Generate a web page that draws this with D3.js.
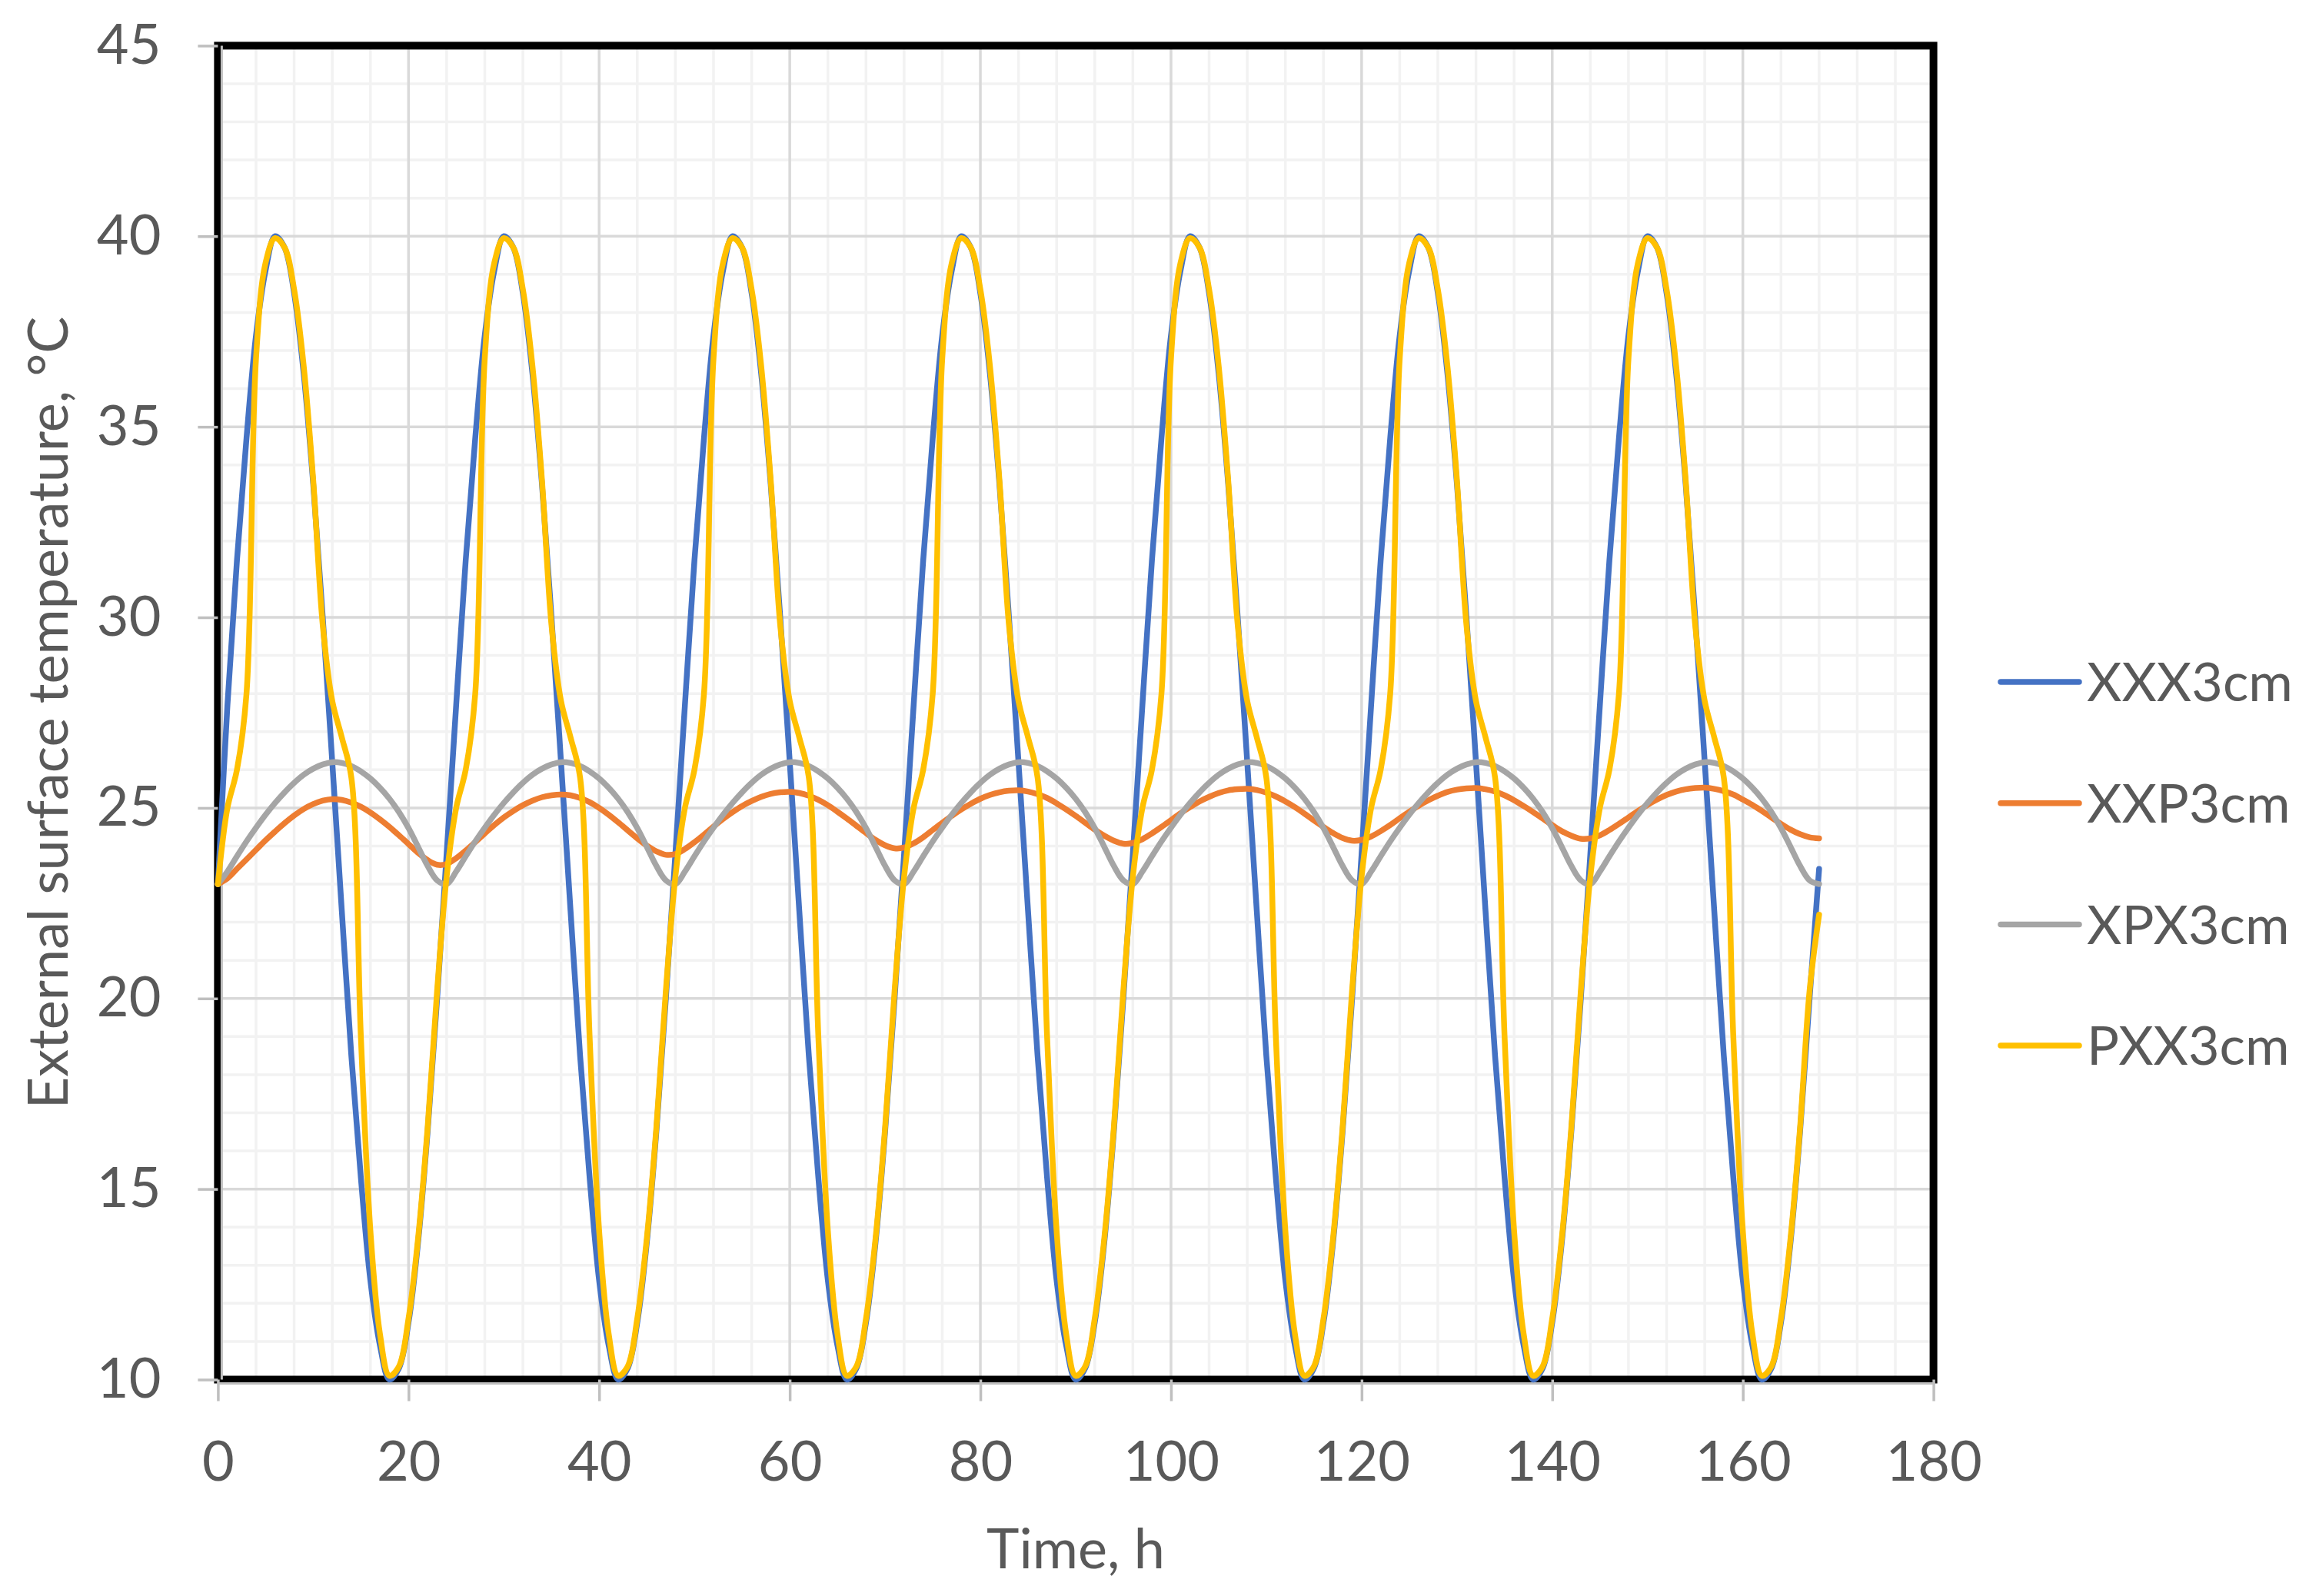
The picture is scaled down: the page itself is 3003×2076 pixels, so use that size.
<!DOCTYPE html>
<html>
<head>
<meta charset="utf-8">
<script src="https://cdn.jsdelivr.net/npm/d3@7"></script>
<style>
  body { margin: 0; background: #fff; }
  text { font-family: Lato, "Open Sans", sans-serif; fill: #595959; }
</style>
</head>
<body>
<div id="chart"></div>
<script>

// hourly samples, 0..168 h
var hours = d3.range(0, 169);

var xxx3cm = [23.0,
  27.7, 31.5, 34.7, 37.4, 39.1, 40.0, 39.7, 38.5, 36.4, 33.5, 30.0, 26.2, 22.3, 18.5, 15.3, 12.6, 10.9, 10.0, 10.3, 11.5, 13.6, 16.5, 20.0, 23.8,
  27.7, 31.5, 34.7, 37.4, 39.1, 40.0, 39.7, 38.5, 36.4, 33.5, 30.0, 26.2, 22.3, 18.5, 15.3, 12.6, 10.9, 10.0, 10.3, 11.5, 13.6, 16.5, 20.0, 23.8,
  27.7, 31.5, 34.7, 37.4, 39.1, 40.0, 39.7, 38.5, 36.4, 33.5, 30.0, 26.2, 22.3, 18.5, 15.3, 12.6, 10.9, 10.0, 10.3, 11.5, 13.6, 16.5, 20.0, 23.8,
  27.7, 31.5, 34.7, 37.4, 39.1, 40.0, 39.7, 38.5, 36.4, 33.5, 30.0, 26.2, 22.3, 18.5, 15.3, 12.6, 10.9, 10.0, 10.3, 11.5, 13.6, 16.5, 20.0, 23.8,
  27.7, 31.5, 34.7, 37.4, 39.1, 40.0, 39.7, 38.5, 36.4, 33.5, 30.0, 26.2, 22.3, 18.5, 15.3, 12.6, 10.9, 10.0, 10.3, 11.5, 13.6, 16.5, 20.0, 23.8,
  27.7, 31.5, 34.7, 37.4, 39.1, 40.0, 39.7, 38.5, 36.4, 33.5, 30.0, 26.2, 22.3, 18.5, 15.3, 12.6, 10.9, 10.0, 10.3, 11.5, 13.6, 16.5, 20.0, 23.8,
  27.7, 31.5, 34.7, 37.4, 39.1, 40.0, 39.7, 38.5, 36.4, 33.5, 30.0, 26.2, 22.3, 18.5, 15.3, 12.6, 10.9, 10.0, 10.3, 11.5, 13.6, 16.5, 20.0, 23.4];

var xxp3cm = [23.0,
  23.15, 23.4, 23.65, 23.9, 24.15, 24.38, 24.6, 24.8, 24.97, 25.1, 25.19, 25.23, 25.21, 25.14, 25.03, 24.88, 24.7, 24.5, 24.28, 24.05, 23.82, 23.63, 23.51, 23.53,
  23.68, 23.88, 24.1, 24.33, 24.55, 24.75, 24.92, 25.07, 25.19, 25.28, 25.33, 25.35, 25.33, 25.26, 25.15, 25.0, 24.82, 24.62, 24.41, 24.2, 24.01, 23.86, 23.77, 23.79,
  23.92, 24.1, 24.3, 24.51, 24.71, 24.89, 25.05, 25.18, 25.29, 25.37, 25.41, 25.42, 25.39, 25.32, 25.21, 25.07, 24.9, 24.72, 24.53, 24.34, 24.16, 24.02, 23.94, 23.96,
  24.07, 24.23, 24.42, 24.61, 24.79, 24.96, 25.11, 25.24, 25.34, 25.41, 25.45, 25.46, 25.43, 25.36, 25.26, 25.12, 24.96, 24.79, 24.61, 24.43, 24.27, 24.14, 24.06, 24.08,
  24.18, 24.33, 24.5, 24.68, 24.86, 25.02, 25.17, 25.29, 25.39, 25.46, 25.49, 25.5, 25.47, 25.4, 25.3, 25.17, 25.02, 24.85, 24.67, 24.5, 24.34, 24.21, 24.14, 24.16,
  24.25, 24.39, 24.55, 24.73, 24.9, 25.06, 25.2, 25.32, 25.42, 25.48, 25.51, 25.52, 25.49, 25.43, 25.33, 25.2, 25.05, 24.89, 24.72, 24.55, 24.39, 24.27, 24.19, 24.2,
  24.28, 24.42, 24.58, 24.75, 24.92, 25.08, 25.22, 25.34, 25.43, 25.49, 25.52, 25.53, 25.5, 25.44, 25.35, 25.22, 25.08, 24.92, 24.75, 24.58, 24.43, 24.31, 24.23, 24.2];

var xpx3cm = [23.0,
  23.33, 23.73, 24.12, 24.48, 24.82, 25.13, 25.41, 25.66, 25.87, 26.03, 26.14, 26.2, 26.18, 26.1, 25.96, 25.77, 25.53, 25.24, 24.89, 24.47, 23.98, 23.48, 23.1, 23.0,
  23.33, 23.73, 24.12, 24.48, 24.82, 25.13, 25.41, 25.66, 25.87, 26.03, 26.14, 26.2, 26.18, 26.1, 25.96, 25.77, 25.53, 25.24, 24.89, 24.47, 23.98, 23.48, 23.1, 23.0,
  23.33, 23.73, 24.12, 24.48, 24.82, 25.13, 25.41, 25.66, 25.87, 26.03, 26.14, 26.2, 26.18, 26.1, 25.96, 25.77, 25.53, 25.24, 24.89, 24.47, 23.98, 23.48, 23.1, 23.0,
  23.33, 23.73, 24.12, 24.48, 24.82, 25.13, 25.41, 25.66, 25.87, 26.03, 26.14, 26.2, 26.18, 26.1, 25.96, 25.77, 25.53, 25.24, 24.89, 24.47, 23.98, 23.48, 23.1, 23.0,
  23.33, 23.73, 24.12, 24.48, 24.82, 25.13, 25.41, 25.66, 25.87, 26.03, 26.14, 26.2, 26.18, 26.1, 25.96, 25.77, 25.53, 25.24, 24.89, 24.47, 23.98, 23.48, 23.1, 23.0,
  23.33, 23.73, 24.12, 24.48, 24.82, 25.13, 25.41, 25.66, 25.87, 26.03, 26.14, 26.2, 26.18, 26.1, 25.96, 25.77, 25.53, 25.24, 24.89, 24.47, 23.98, 23.48, 23.1, 23.0,
  23.33, 23.73, 24.12, 24.48, 24.82, 25.13, 25.41, 25.66, 25.87, 26.03, 26.14, 26.2, 26.18, 26.1, 25.96, 25.77, 25.53, 25.24, 24.89, 24.47, 23.98, 23.48, 23.1, 23.0];

var pxx3cm = [23.0,
  25.0, 26.0, 28.0, 36.8, 39.3, 39.95, 39.7, 38.6, 36.6, 33.6, 29.8, 27.8, 26.85, 25.8, 19.0, 13.9, 11.2, 10.1, 10.35, 11.6, 13.7, 16.6, 20.2, 23.2,
  25.0, 26.0, 28.0, 36.8, 39.3, 39.95, 39.7, 38.6, 36.6, 33.6, 29.8, 27.8, 26.85, 25.8, 19.0, 13.9, 11.2, 10.1, 10.35, 11.6, 13.7, 16.6, 20.2, 23.2,
  25.0, 26.0, 28.0, 36.8, 39.3, 39.95, 39.7, 38.6, 36.6, 33.6, 29.8, 27.8, 26.85, 25.8, 19.0, 13.9, 11.2, 10.1, 10.35, 11.6, 13.7, 16.6, 20.2, 23.2,
  25.0, 26.0, 28.0, 36.8, 39.3, 39.95, 39.7, 38.6, 36.6, 33.6, 29.8, 27.8, 26.85, 25.8, 19.0, 13.9, 11.2, 10.1, 10.35, 11.6, 13.7, 16.6, 20.2, 23.2,
  25.0, 26.0, 28.0, 36.8, 39.3, 39.95, 39.7, 38.6, 36.6, 33.6, 29.8, 27.8, 26.85, 25.8, 19.0, 13.9, 11.2, 10.1, 10.35, 11.6, 13.7, 16.6, 20.2, 23.2,
  25.0, 26.0, 28.0, 36.8, 39.3, 39.95, 39.7, 38.6, 36.6, 33.6, 29.8, 27.8, 26.85, 25.8, 19.0, 13.9, 11.2, 10.1, 10.35, 11.6, 13.7, 16.6, 20.2, 23.2,
  25.0, 26.0, 28.0, 36.8, 39.3, 39.95, 39.7, 38.6, 36.6, 33.6, 29.8, 27.8, 26.85, 25.8, 19.0, 13.9, 11.2, 10.1, 10.35, 11.6, 13.7, 16.6, 20.2, 22.2];

var seriesNames = ['XXX3cm', 'XXP3cm', 'XPX3cm', 'PXX3cm'];
var seriesValues = [xxx3cm, xxp3cm, xpx3cm, pxx3cm];

var xTicks = [0, 20, 40, 60, 80, 100, 120, 140, 160, 180];
var yTicks = [10, 15, 20, 25, 30, 35, 40, 45];
var xTitle = 'Time, h';
var yTitle = 'External surface temperature, °C';


function getChart() {
    var attrs = {
        svgWidth: 3003,
        svgHeight: 2076,
        marginTop: 59.4,
        marginLeft: 283.4,
        chartWidth: 2231.2,
        chartHeight: 1735.1,
        colors: ['#4472C4', '#ED7D31', '#A5A5A5', '#FFC000'],
        lineWidth: 7.5,
        fontSize: 72,
        legendX: 2602,
        legendTop: 887,
        legendGap: 157.7
    };

    var main = function (selection) {
        selection.each(function () {

            var calc = {};
            calc.w = attrs.chartWidth;
            calc.h = attrs.chartHeight;

            var x = d3.scaleLinear().domain([0, 180]).range([0, calc.w]);
            var y = d3.scaleLinear().domain([10, 45]).range([calc.h, 0]);

            var svg = d3.select(this).append('svg')
                .attr('width', attrs.svgWidth)
                .attr('height', attrs.svgHeight);

            var chart = svg.append('g')
                .attr('transform', 'translate(' + attrs.marginLeft + ',' + attrs.marginTop + ')');

            /* ############  GRID ############ */
            var minorX = d3.range(0, 181, 4).filter(d => d % 20 !== 0);
            var minorY = d3.range(10, 46, 1).filter(d => d % 5 !== 0);

            chart.append('g').selectAll('line').data(minorX).enter().append('line')
                .attr('x1', d => x(d)).attr('x2', d => x(d))
                .attr('y1', 0).attr('y2', calc.h)
                .attr('stroke', '#f2f2f2').attr('stroke-width', 3.5);
            chart.append('g').selectAll('line').data(minorY).enter().append('line')
                .attr('y1', d => y(d)).attr('y2', d => y(d))
                .attr('x1', 0).attr('x2', calc.w)
                .attr('stroke', '#f2f2f2').attr('stroke-width', 3.5);

            chart.append('g').selectAll('line').data(xTicks).enter().append('line')
                .attr('x1', d => x(d)).attr('x2', d => x(d))
                .attr('y1', 0).attr('y2', calc.h)
                .attr('stroke', '#d9d9d9').attr('stroke-width', 3.5);
            chart.append('g').selectAll('line').data(yTicks).enter().append('line')
                .attr('y1', d => y(d)).attr('y2', d => y(d))
                .attr('x1', 0).attr('x2', calc.w)
                .attr('stroke', '#d9d9d9').attr('stroke-width', 3.5);

            // plot area border
            chart.append('rect')
                .attr('x', 0).attr('y', 0)
                .attr('width', calc.w).attr('height', calc.h)
                .attr('fill', 'none')
                .attr('stroke', '#000').attr('stroke-width', 10);

            /* ############  AXES ############ */
            var xAxis = chart.append('g')
                .attr('transform', 'translate(0,' + calc.h + ')')
                .call(d3.axisBottom(x).tickValues(xTicks).tickSize(28).tickPadding(52).tickSizeOuter(0));
            var yAxis = chart.append('g')
                .call(d3.axisLeft(y).tickValues(yTicks).tickSize(26).tickPadding(48).tickSizeOuter(0));

            [xAxis, yAxis].forEach(function (ax) {
                ax.select('.domain').remove();
                ax.selectAll('line').attr('stroke', '#bfbfbf').attr('stroke-width', 3.5);
                ax.selectAll('text')
                    .attr('fill', '#595959')
                    .style('font-size', attrs.fontSize + 'px')
                    .style('font-family', 'Lato, "Open Sans", sans-serif');
            });

            // grey axis lines just beside the black border
            chart.append('line')
                .attr('x1', 0).attr('x2', calc.w)
                .attr('y1', calc.h + 5).attr('y2', calc.h + 5)
                .attr('stroke', '#bfbfbf').attr('stroke-width', 3);
            chart.append('line')
                .attr('x1', 5).attr('x2', 5)
                .attr('y1', 0).attr('y2', calc.h)
                .attr('stroke', '#bfbfbf').attr('stroke-width', 3);

            /* ############  SERIES ############ */
            var line = d3.line()
                .x(d => x(d[0]))
                .y(d => y(d[1]))
                .curve(d3.curveCatmullRom.alpha(0.5));

            chart.append('g').selectAll('path')
                .data(seriesValues)
                .enter()
                .append('path')
                .attr('d', vals => line(hours.map((h, i) => [h, vals[i]])))
                .attr('fill', 'none')
                .attr('stroke', (d, i) => attrs.colors[i])
                .attr('stroke-width', attrs.lineWidth)
                .attr('stroke-linejoin', 'round')
                .attr('stroke-linecap', 'round');

            /* ############  TITLES ############ */
            svg.append('text')
                .attr('x', attrs.marginLeft + calc.w / 2)
                .attr('y', 2040)
                .attr('text-anchor', 'middle')
                .style('font-size', attrs.fontSize + 'px')
                .text(xTitle);

            svg.append('text')
                .attr('transform', 'translate(88,' + (attrs.marginTop + calc.h / 2) + ') rotate(-90)')
                .attr('text-anchor', 'middle')
                .style('font-size', attrs.fontSize + 'px')
                .text(yTitle);

            /* ############  LEGEND ############ */
            var legend = svg.append('g').selectAll('g')
                .data(seriesNames)
                .enter()
                .append('g')
                .attr('transform', (d, i) => 'translate(' + attrs.legendX + ',' + (attrs.legendTop + i * attrs.legendGap) + ')');

            legend.append('line')
                .attr('x1', 0).attr('x2', 102)
                .attr('y1', 0).attr('y2', 0)
                .attr('stroke', (d, i) => attrs.colors[i])
                .attr('stroke-width', attrs.lineWidth)
                .attr('stroke-linecap', 'round');

            legend.append('text')
                .attr('x', 112)
                .attr('dy', '0.36em')
                .style('font-size', (attrs.fontSize - 2) + 'px')
                .text(d => d);
        });
    };

    return main;
}

d3.select('#chart').call(getChart());

</script>
</body>
</html>
